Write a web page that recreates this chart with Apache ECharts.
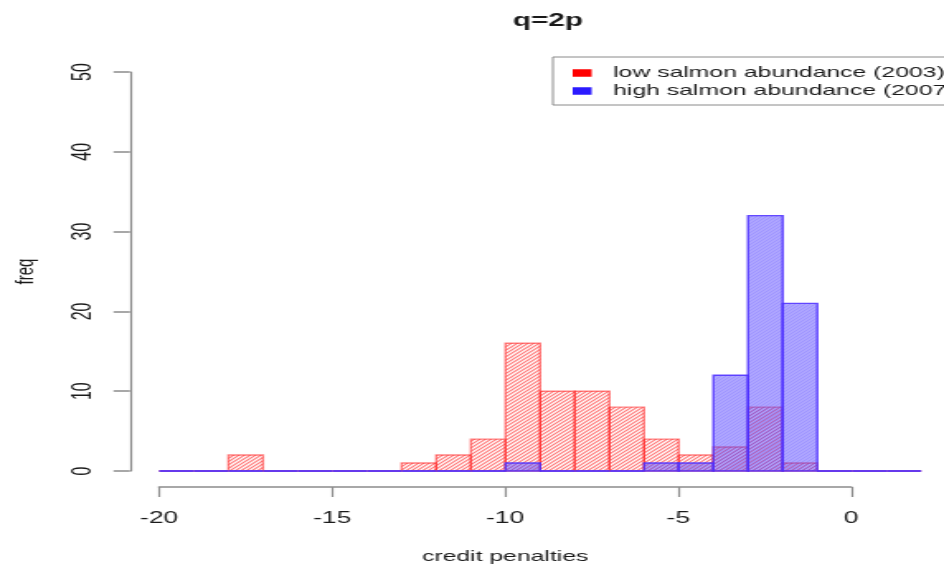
<!DOCTYPE html>
<html>
<head>
<meta charset="utf-8">
<script src="https://cdn.jsdelivr.net/npm/echarts@6/dist/echarts.min.js"></script>
<style>
html,body{margin:0;padding:0;background:#fff;}
#wrap{width:944px;height:565px;overflow:hidden;position:relative;}
#chart{width:572px;height:565px;transform:scaleX(1.65035);transform-origin:0 0;}
</style>
</head>
<body>
<div id="wrap"><div id="chart"></div></div>
<script>
// ---- data ----
const titleText = 'q=2p';
const xName = 'credit penalties';
const yName = 'freq';
const lowName = 'low salmon abundance (2003)';
const highName = 'high salmon abundance (2007)';
const breaks = [-20,-19,-18,-17,-16,-15,-14,-13,-12,-11,-10,-9,-8,-7,-6,-5,-4,-3,-2,-1,0,1,2];
const lowCounts  = [0,0,2,0,0,0,0,1,2,4,16,10,10,8,4,2,3,8,1,0,0,0];
const highCounts = [0,0,0,0,0,0,0,0,0,0,1,0,0,0,1,1,12,32,21,0,0,0];
const xTickMin = -20, xTickMax = 0, xTickStep = 5;
const yMin = 0, yMax = 50, yStep = 10;

// ---- hatch patterns ----
function hatch(size, n, bg, lineColor, lw) {
  const c = document.createElement('canvas');
  c.width = size; c.height = size;
  const g = c.getContext('2d');
  if (bg) { g.fillStyle = bg; g.fillRect(0,0,size,size); }
  g.strokeStyle = lineColor; g.lineWidth = lw;
  const step = size / n;
  for (let k = -n; k <= 2 * n; k++) {
    const cc = k * step;
    g.beginPath(); g.moveTo(-size, cc + size); g.lineTo(cc + size, -size); g.stroke();
  }
  return c;
}
const redPat = hatch(10, 3, null, 'rgba(255,30,30,0.62)', 1.05);
const bluePat = hatch(6, 4, 'rgba(95,80,255,0.42)', 'rgba(70,50,255,0.32)', 0.8);

function toData(counts) {
  return counts.map((v, i) => [breaks[i], breaks[i + 1], v]);
}
function makeRender(fill, stroke, lw) {
  return function (params, api) {
    const x0 = api.value(0), x1 = api.value(1), v = api.value(2);
    const p0 = api.coord([x0, 0]);
    const p1 = api.coord([x1, v]);
    return {
      type: 'rect',
      shape: { x: p0[0], y: p1[1], width: p1[0] - p0[0], height: p0[1] - p1[1] },
      style: { fill: v > 0 ? fill : 'none', stroke: stroke, lineWidth: v > 0 ? lw : 1.8 }
    };
  };
}

const axisColor = '#8c8c8c';
const textColor = '#1a1a1a';
const ff = '"Liberation Sans", Arial, Helvetica, sans-serif';

const chart = echarts.init(document.getElementById('chart'));
chart.setOption({
  animation: false,
  title: {
    text: titleText, left: 327, top: 7, textAlign: 'center',
    textStyle: { fontSize: 18, fontWeight: 'bold', color: textColor, fontFamily: ff }
  },
  legend: {
    orient: 'vertical', left: 335, top: 57,
    padding: [7, 10, 5, 12],
    borderColor: '#8a8a8a', borderWidth: 1,
    itemWidth: 11.5, itemHeight: 7.5, itemGap: 0, icon: 'rect',
    textStyle: { fontSize: 15, color: textColor, fontFamily: ff, lineHeight: 18, padding: [0, 0, 0, 8] },
    data: [
      { name: lowName, itemStyle: { color: '#ff0000' } },
      { name: highName, itemStyle: { color: '#2b1aff' } }
    ]
  },
  grid: [
    { left: 96.4, right: 13.8, top: 72, bottom: 94 },
    { left: 96.4, right: 56.2, top: 480, bottom: 77 }
  ],
  xAxis: [
    { gridIndex: 0, type: 'value', min: breaks[0], max: breaks[breaks.length - 1], show: false,
      axisLine: { onZero: false } },
    {
      gridIndex: 1, type: 'value', min: xTickMin, max: xTickMax, interval: xTickStep,
      axisLine: { show: true, onZero: false, lineStyle: { color: axisColor, width: 1.5 } },
      axisTick: { show: true, length: 10, lineStyle: { color: axisColor, width: 1.2 } },
      axisLabel: { margin: 24, fontSize: 16, color: textColor, fontFamily: ff },
      splitLine: { show: false },
      name: xName, nameLocation: 'middle', nameGap: 62,
      nameTextStyle: { fontSize: 15, color: textColor, fontFamily: ff }
    }
  ],
  yAxis: [
    {
      gridIndex: 0, type: 'value', min: yMin, max: yMax, interval: yStep, offset: 17.6,
      axisLine: { show: true, onZero: false, lineStyle: { color: axisColor, width: 1.2 } },
      axisTick: { show: true, length: 10, lineStyle: { color: axisColor, width: 1.5 } },
      axisLabel: { rotate: 90, margin: 20, fontSize: 16, color: textColor, fontFamily: ff },
      splitLine: { show: false },
      name: yName, nameLocation: 'middle', nameGap: 55,
      nameTextStyle: { fontSize: 15, color: textColor, fontFamily: ff }
    },
    { gridIndex: 1, type: 'value', show: false, axisLine: { onZero: false } }
  ],
  series: [
    {
      name: lowName, type: 'custom', xAxisIndex: 0, yAxisIndex: 0,
      itemStyle: { color: '#ff0000' },
      encode: { x: [0, 1], y: 2 },
      renderItem: makeRender({ image: redPat, repeat: 'repeat' }, 'rgba(255,30,30,0.55)', 1.4),
      data: toData(lowCounts), z: 2
    },
    {
      name: highName, type: 'custom', xAxisIndex: 0, yAxisIndex: 0,
      itemStyle: { color: '#2b1aff' },
      encode: { x: [0, 1], y: 2 },
      renderItem: makeRender({ image: bluePat, repeat: 'repeat' }, 'rgba(75,45,255,0.85)', 1.4),
      data: toData(highCounts), z: 3
    }
  ]
});
</script>
</body>
</html>
